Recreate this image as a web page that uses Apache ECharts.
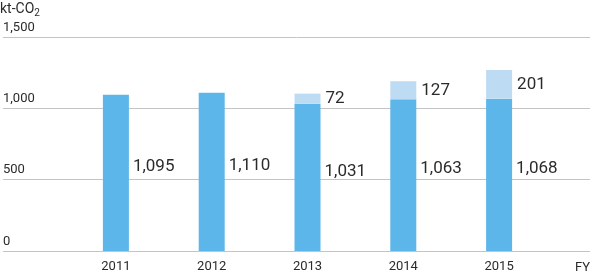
<!DOCTYPE html>
<html><head><meta charset="utf-8">
<script src="https://cdn.jsdelivr.net/npm/echarts@6/dist/echarts.min.js"></script>
<style>html,body{margin:0;padding:0;background:#fff}#c{width:592px;height:274px}</style>
</head><body><div id="c"></div>
<script>
const categories = ['2011', '2012', '2013', '2014', '2015'];
const baseValues = [1095, 1110, 1031, 1063, 1068];
const addedValues = ['-', '-', 72, 127, 201];
const yTicks = [0, 500, 1000, 1500];

const FONT = 'Roboto, "Liberation Sans", sans-serif';
const TXT = '#2b2b2b';
const fmt = v => Number(v).toLocaleString('en-US');

const chart = echarts.init(document.getElementById('c'), null, {renderer: 'canvas'});
chart.setOption({
  animation: false,
  textStyle: {fontFamily: FONT},
  grid: [
    {left: 68, right: 45, top: 37, bottom: 23},
    {left: 0, right: 2, top: 37, bottom: 23}
  ],
  xAxis: [
    {gridIndex: 0, type: 'category', data: categories,
     axisLine: {show: false}, axisTick: {show: false},
     axisLabel: {color: TXT, fontSize: 13, margin: 9, fontFamily: FONT}},
    {gridIndex: 1, type: 'value', show: false, min: 0, max: 1}
  ],
  yAxis: [
    {gridIndex: 0, type: 'value', min: yTicks[0], max: yTicks[yTicks.length-1], interval: 500, show: false},
    {gridIndex: 1, type: 'value', min: yTicks[0], max: yTicks[yTicks.length-1], interval: 500,
     axisLine: {show: false}, axisTick: {show: false},
     splitLine: {lineStyle: {color: '#c4c4c4', width: 1}},
     axisLabel: {inside: true, margin: 0, align: 'left', verticalAlign: 'bottom',
       padding: [0, 0, 3, 0], color: TXT, fontSize: 13, fontFamily: FONT,
       formatter: v => fmt(v)}}
  ],
  series: [
    {type: 'bar', xAxisIndex: 0, yAxisIndex: 0, stack: 'a', data: baseValues,
     barWidth: 26, itemStyle: {color: '#5cb6e9'},
     label: {show: true, position: 'right', distance: 4, offset: [0, -6],
       color: TXT, fontSize: 17, fontFamily: FONT, formatter: p => fmt(p.value)}},
    {type: 'bar', xAxisIndex: 0, yAxisIndex: 0, stack: 'a', data: addedValues,
     barWidth: 26, itemStyle: {color: '#bddcf4'},
     label: {show: true, position: 'right', distance: 5,
       color: TXT, fontSize: 17, fontFamily: FONT, formatter: p => fmt(p.value)}}
  ],
  graphic: [
    {type: 'text', left: 0, top: 2, style: {
      text: '{a|kt-CO}{b|2}', fill: TXT,
      rich: {a: {fontSize: 14, fontFamily: FONT, fill: TXT},
             b: {fontSize: 10, fontFamily: FONT, fill: TXT, verticalAlign: 'bottom', padding: [8, 0, 0, 0]}}}},
    {type: 'text', right: 2, top: 261, style: {text: 'FY', fontSize: 13, fontFamily: FONT, fill: TXT}}
  ]
});
</script></body></html>
